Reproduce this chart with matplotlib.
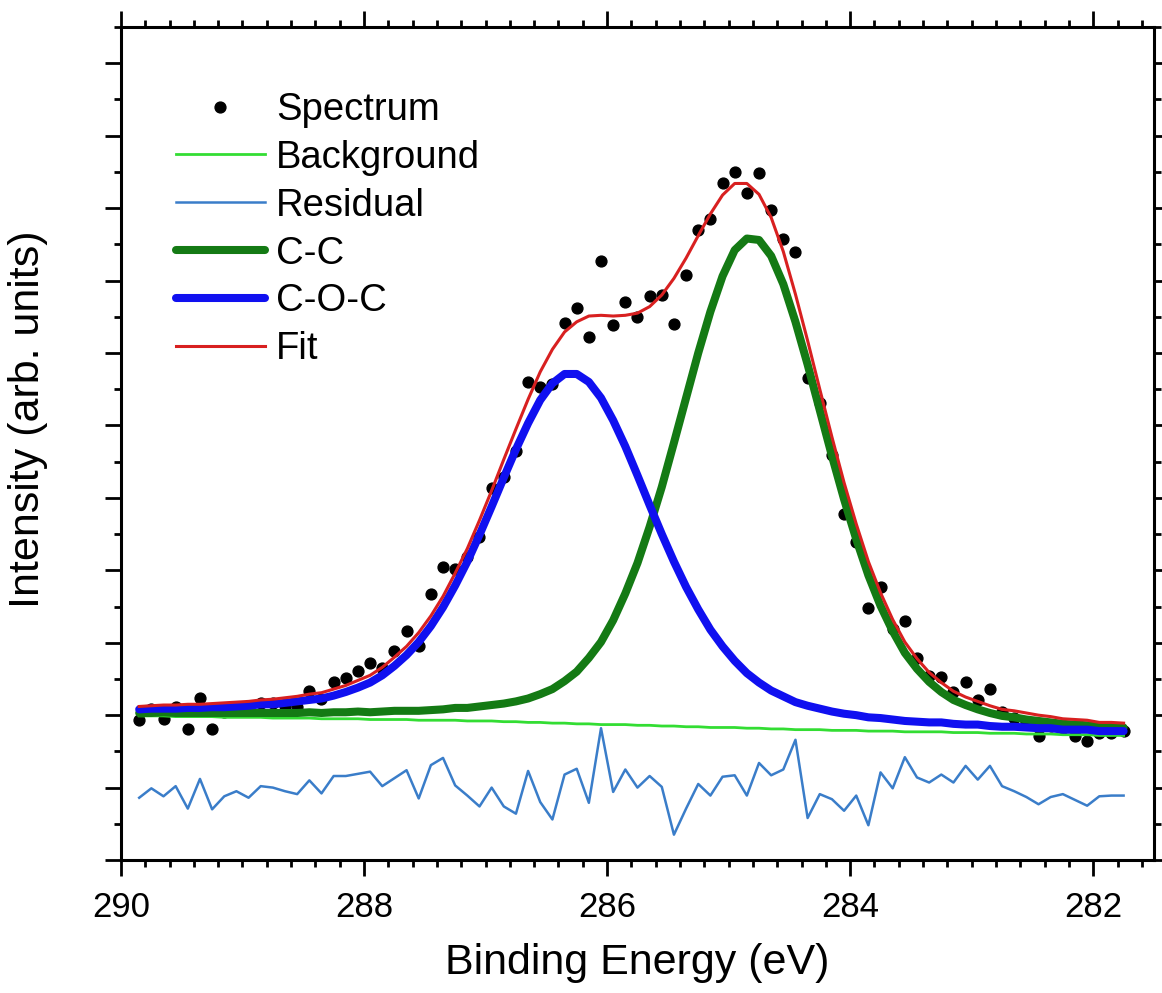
import matplotlib

matplotlib.use("Agg")
import matplotlib.pyplot as plt
import numpy as np
from matplotlib.ticker import MultipleLocator, NullFormatter

plt.rcParams["font.family"] = ["Liberation Sans", "DejaVu Sans"]

# binding energy grid (eV), 0.1 eV steps as recorded
energy = np.round(np.arange(289.85, 281.70, -0.1), 2)

spectrum = [
    1.93, 2.09, 1.95, 2.11, 1.81, 2.24, 1.81, 2.04, 2.07, 2.06,
    2.17, 2.17, 2.13, 2.11, 2.33, 2.22, 2.46, 2.51, 2.61, 2.72,
    2.65, 2.89, 3.16, 2.96, 3.67, 4.05, 4.02, 4.19, 4.46, 5.14,
    5.29, 5.64, 6.60, 6.53, 6.57, 7.42, 7.62, 7.22, 8.27, 7.38,
    7.71, 7.50, 7.78, 7.80, 7.40, 8.07, 8.70, 8.85, 9.34, 9.50,
    9.21, 9.48, 8.98, 8.58, 8.40, 6.66, 6.31, 5.59, 4.78, 4.39,
    3.48, 3.77, 3.19, 3.30, 2.79, 2.54, 2.53, 2.32, 2.46, 2.21,
    2.36, 2.04, 1.96, 1.91, 1.71, 1.85, 1.82, 1.71, 1.64, 1.75,
    1.75, 1.78,
]

residual = [
    0.86, 0.99, 0.88, 1.02, 0.71, 1.12, 0.70, 0.88, 0.95, 0.86,
    1.02, 1.00, 0.95, 0.91, 1.10, 0.92, 1.16, 1.16, 1.19, 1.22,
    1.02, 1.13, 1.24, 0.85, 1.31, 1.41, 1.03, 0.89, 0.74, 1.00,
    0.74, 0.64, 1.23, 0.80, 0.56, 1.18, 1.26, 0.79, 1.82, 0.94,
    1.25, 1.00, 1.16, 1.01, 0.35, 0.71, 1.05, 0.89, 1.15, 1.17,
    0.89, 1.34, 1.17, 1.25, 1.66, 0.58, 0.91, 0.84, 0.68, 0.89,
    0.48, 1.21, 0.99, 1.42, 1.14, 1.07, 1.18, 1.07, 1.30, 1.11,
    1.30, 1.02, 0.95, 0.87, 0.77, 0.87, 0.91, 0.83, 0.75, 0.88,
    0.89, 0.89,
]

background = [
    1.99, 1.99, 1.99, 1.98, 1.98, 1.98, 1.98, 1.97, 1.97, 1.97,
    1.97, 1.96, 1.96, 1.96, 1.96, 1.95, 1.95, 1.95, 1.95, 1.94,
    1.94, 1.94, 1.94, 1.93, 1.93, 1.93, 1.93, 1.92, 1.92, 1.92,
    1.91, 1.91, 1.90, 1.90, 1.89, 1.89, 1.88, 1.88, 1.87, 1.87,
    1.87, 1.86, 1.86, 1.85, 1.85, 1.84, 1.84, 1.83, 1.83, 1.83,
    1.82, 1.82, 1.81, 1.81, 1.80, 1.80, 1.80, 1.79, 1.79, 1.79,
    1.78, 1.78, 1.78, 1.77, 1.77, 1.77, 1.77, 1.76, 1.76, 1.76,
    1.75, 1.75, 1.75, 1.74, 1.74, 1.74, 1.73, 1.73, 1.73, 1.72,
    1.72, 1.72,
]

# component heights above the background
cc_peak = [
    0.04, 0.04, 0.05, 0.05, 0.05, 0.05, 0.05, 0.06, 0.06, 0.06,
    0.06, 0.07, 0.07, 0.07, 0.08, 0.08, 0.09, 0.09, 0.10, 0.10,
    0.11, 0.12, 0.12, 0.13, 0.14, 0.15, 0.17, 0.18, 0.20, 0.22,
    0.25, 0.28, 0.33, 0.39, 0.47, 0.58, 0.72, 0.91, 1.14, 1.44,
    1.81, 2.24, 2.74, 3.30, 3.91, 4.54, 5.16, 5.74, 6.23, 6.59,
    6.76, 6.74, 6.53, 6.14, 5.63, 5.04, 4.41, 3.79, 3.19, 2.64,
    2.15, 1.73, 1.38, 1.09, 0.87, 0.69, 0.55, 0.45, 0.38, 0.32,
    0.28, 0.24, 0.22, 0.20, 0.18, 0.16, 0.15, 0.14, 0.13, 0.12,
    0.12, 0.11,
]

coc_peak = [
    0.09, 0.10, 0.10, 0.11, 0.12, 0.12, 0.13, 0.14, 0.15, 0.16,
    0.18, 0.19, 0.21, 0.23, 0.25, 0.28, 0.32, 0.37, 0.43, 0.51,
    0.61, 0.74, 0.89, 1.08, 1.30, 1.56, 1.86, 2.20, 2.57, 2.96,
    3.37, 3.76, 4.13, 4.45, 4.69, 4.82, 4.83, 4.72, 4.51, 4.20,
    3.84, 3.45, 3.04, 2.65, 2.27, 1.93, 1.62, 1.35, 1.12, 0.92,
    0.76, 0.63, 0.53, 0.45, 0.38, 0.33, 0.29, 0.26, 0.23, 0.21,
    0.19, 0.18, 0.16, 0.15, 0.14, 0.13, 0.13, 0.12, 0.11, 0.11,
    0.10, 0.09, 0.09, 0.09, 0.08, 0.08, 0.07, 0.07, 0.07, 0.06,
    0.06, 0.06,
]

bg = np.array(background)
cc = bg + np.array(cc_peak)
coc = bg + np.array(coc_peak)
fit = bg + np.array(cc_peak) + np.array(coc_peak)

fig = plt.figure(figsize=(11.62, 9.93), dpi=100)
ax = fig.add_axes([0.1041, 0.1339, 0.889, 0.8389])

ax.plot(energy, spectrum, "o", color="black", markersize=7.8, label="Spectrum", zorder=2)
ax.plot(energy, bg, color="#33dd33", linewidth=2.0, label="Background", zorder=3)
ax.plot(energy, residual, color="#3a7dc9", linewidth=1.8, label="Residual", zorder=3)
ax.plot(energy, cc, color="#147a14", linewidth=5.8, solid_capstyle="round",
        solid_joinstyle="round", label="C-C", zorder=4)
ax.plot(energy, coc, color="#1010f0", linewidth=5.8, solid_capstyle="round",
        solid_joinstyle="round", label="C-O-C", zorder=5)
ax.plot(energy, fit, color="#d82020", linewidth=2.2, label="Fit", zorder=6)

ax.set_xlim(290, 281.5)
ax.set_ylim(0, 11.5)
ax.xaxis.set_major_locator(MultipleLocator(2))
ax.xaxis.set_minor_locator(MultipleLocator(0.2))
ax.yaxis.set_major_locator(MultipleLocator(1))
ax.yaxis.set_minor_locator(MultipleLocator(0.5))
ax.yaxis.set_major_formatter(NullFormatter())

for sp in ax.spines.values():
    sp.set_linewidth(2.2)
ax.tick_params(which="both", direction="out", top=True, right=True, width=2.0,
               labelleft=False, labelsize=25, pad=11)
ax.tick_params(which="major", length=11.5)
ax.tick_params(which="minor", length=5)

ax.set_xlabel("Binding Energy (eV)", fontsize=31)
ax.set_ylabel("Intensity (arb. units)", fontsize=31)
ax.xaxis.set_label_coords(0.5, -0.1)
ax.yaxis.set_label_coords(-0.09, 0.529)
ax.yaxis.label.set_verticalalignment("center")

ax.legend(loc="upper left", bbox_to_anchor=(0.0532, 0.922), frameon=False,
          fontsize=27.5, numpoints=1, handlelength=2.33, handletextpad=0.29,
          labelspacing=0.31, borderpad=0, borderaxespad=0)

fig.savefig("out.png", dpi=100)
